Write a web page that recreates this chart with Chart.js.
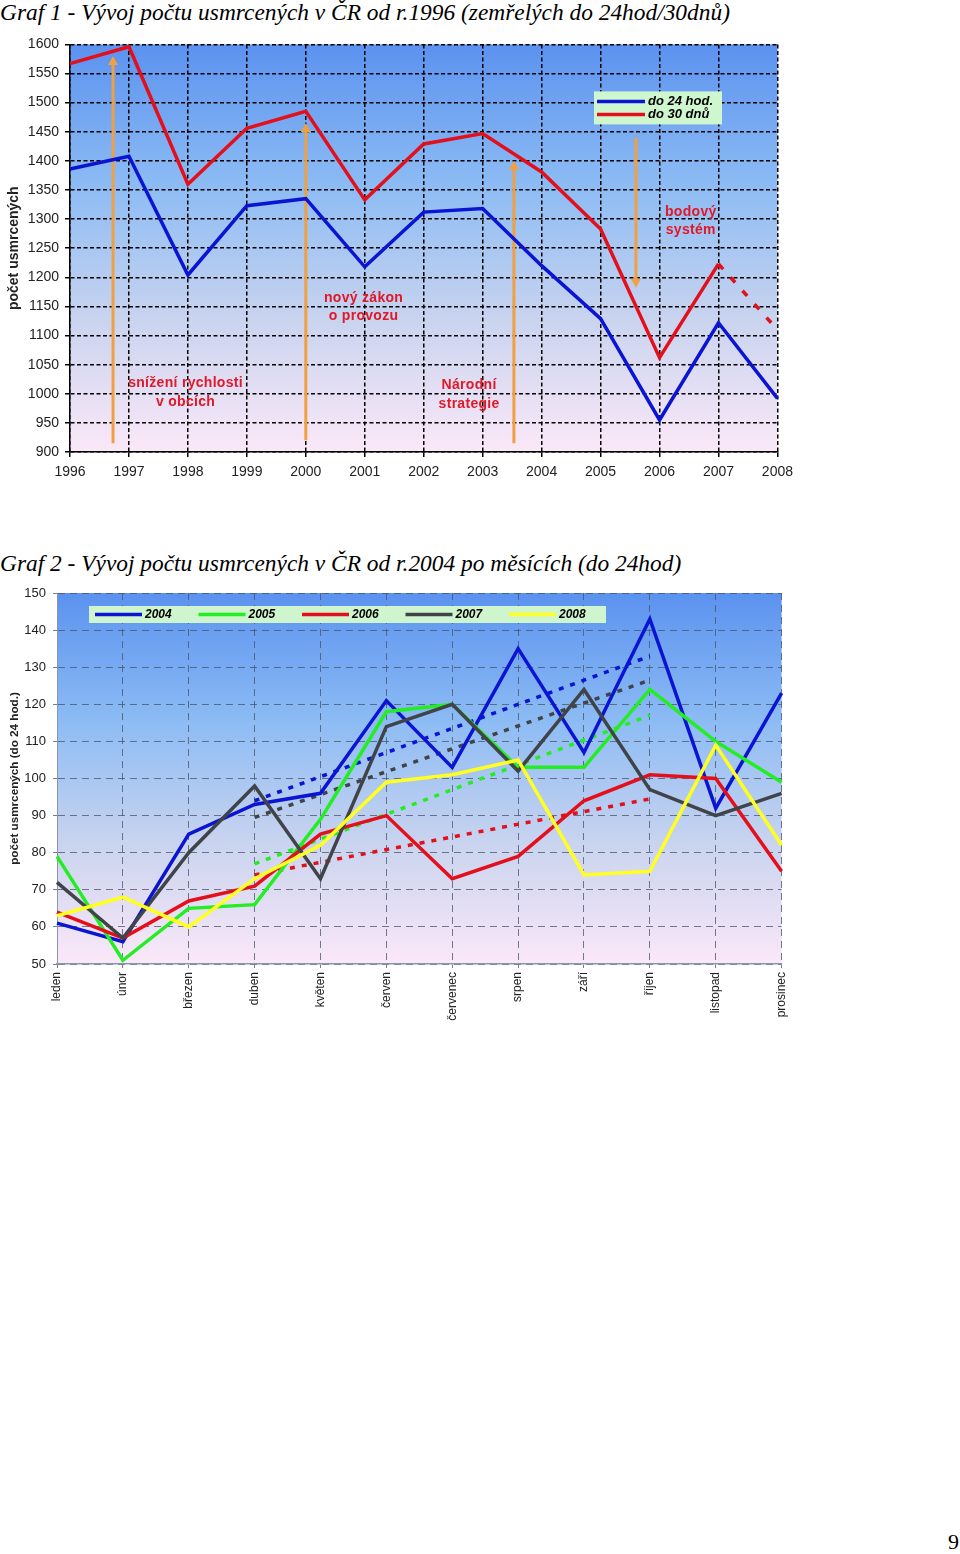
<!DOCTYPE html>
<html lang="cs">
<head>
<meta charset="utf-8">
<title>Vývoj počtu usmrcených v ČR</title>
<script src="https://cdn.jsdelivr.net/npm/chart.js@4.4.1/dist/chart.umd.min.js"></script>
<style>
  body { margin:0; background:#fff; width:960px; height:1554px; position:relative; overflow:hidden; }
  .nadpis { position:absolute; left:0; font-family:'Liberation Serif','Times New Roman',serif; font-style:italic; font-size:23.4px; color:#000; white-space:nowrap; }
  canvas { position:absolute; left:0; }
  #strana { position:absolute; left:948px; top:1529px; font-family:'Liberation Serif','Times New Roman',serif; font-size:22px; }
</style>
</head>
<body>
<div class="nadpis" style="top:-1px">Graf 1 - Vývoj počtu usmrcených v ČR od r.1996 (zemřelých do 24hod/30dnů)</div>
<canvas id="graf1" width="800" height="470" style="top:30px"></canvas>
<div class="nadpis" style="top:550px">Graf 2 - Vývoj počtu usmrcených v ČR od r.2004 po měsících (do 24hod)</div>
<canvas id="graf2" width="800" height="470" style="top:575px"></canvas>
<div id="strana">9</div>
<script>
// Graf 1 - roky
const roky = ['1996','1997','1998','1999','2000','2001','2002','2003','2004','2005','2006','2007','2008'];
const do24hod = [1386,1408,1204,1323,1335,1218,1312,1318,1220,1129,955,1122,992];
const do30dnu = [1567,1596,1360,1456,1485,1333,1429,1447,1381,1283,1062,1223,null];
const do30dnuOdhad = [null,null,null,null,null,null,null,null,null,null,null,1223,1110];

// Graf 2 - mesice
const mesice = ['leden','únor','březen','duben','květen','červen','červenec','srpen','září','říjen','listopad','prosinec'];
const r2004 = [61,56,85,93,96,121,103,135,107,143,92,123];
const r2005 = [79,51,65,66,89,118,120,103,103,124,110,99];
const r2006 = [64,57,67,71,85,90,73,79,94,101,100,75];
const r2007 = [72,57,80,98,73,114,120,102,124,97,90,96];
const r2008 = [63,68,60,73,82,99,101,105,74,75,109,82];
// trendy (duben - rijen)
const trend2004 = [null,null,null,94,null,null,null,null,null,133,null,null];
const trend2005 = [null,null,null,77,null,null,null,null,null,117,null,null];
const trend2006 = [null,null,null,74,null,null,null,null,null,94.5,null,null];
const trend2007 = [null,null,null,89.5,null,null,null,null,null,126.5,null,null];

// sipky a popisky v grafu 1 (rok, hodnoty)
const sipky = [
  {rok:1996.73, od:915, k:1580},
  {rok:2000.0,  od:920, k:1465},
  {rok:2003.53, od:915, k:1400},
  {rok:2005.6,  od:1440, k:1182}
];
const popisky = [
  {rok:1997.96, hodnota:1018, radky:['snížení rychlosti','v obcích']},
  {rok:2000.98, hodnota:1165, radky:['nový zákon','o provozu']},
  {rok:2002.77, hodnota:1014, radky:['Národní','strategie']},
  {rok:2006.53, hodnota:1312, radky:['bodový','systém']}
];

Chart.defaults.font.family = "'Liberation Sans', Arial, sans-serif";

const modra = '#0a14d2', cervena = '#e3101c', zelena = '#22ee22', seda = '#404448', zluta = '#ffff22';

const pozadi = {
  id: 'pozadi',
  beforeDraw(chart) {
    const {ctx, chartArea: a} = chart;
    const g = ctx.createLinearGradient(0, a.top, 0, a.bottom);
    g.addColorStop(0, '#5b92ef');
    g.addColorStop(0.35, '#8dbcf4');
    g.addColorStop(0.68, '#cad4ef');
    g.addColorStop(1, '#fbe8f8');
    ctx.save();
    ctx.fillStyle = g;
    ctx.fillRect(a.left, a.top, a.right - a.left, a.bottom - a.top);
    ctx.restore();
  }
};

const legendaBox = {
  id: 'legendaBox',
  afterDraw(chart, args, o) {
    const {ctx, chartArea: a} = chart;
    const x = a.left + o.x, y = a.top + o.y;
    ctx.save();
    ctx.fillStyle = o.barva;
    ctx.fillRect(x, y, o.w, o.h);
    ctx.font = o.font;
    ctx.textBaseline = 'middle';
    o.polozky.forEach((p, i) => {
      const ds = chart.data.datasets[p];
      const lx = x + o.pad + i * o.dx, ly = y + o.pady + i * o.dy;
      ctx.strokeStyle = ds.borderColor;
      ctx.lineWidth = 3.5;
      ctx.beginPath();
      ctx.moveTo(lx, ly);
      ctx.lineTo(lx + o.delka, ly);
      ctx.stroke();
      ctx.fillStyle = '#000';
      ctx.fillText(ds.label, lx + o.delka + 3, ly + 0.5);
    });
    ctx.restore();
  }
};

const anotace = {
  id: 'anotace',
  beforeDatasetsDraw(chart) {
    const {ctx, scales: {x, y}} = chart;
    ctx.save();
    ctx.strokeStyle = '#f0a040';
    ctx.fillStyle = '#f0a040';
    ctx.lineWidth = 3;
    sipky.forEach(s => {
      const px = x.getPixelForValue(s.rok - 1996);
      const y1 = y.getPixelForValue(s.od), y2 = y.getPixelForValue(s.k);
      const smer = y2 < y1 ? 1 : -1;
      ctx.beginPath();
      ctx.moveTo(px, y1);
      ctx.lineTo(px, y2 + smer * 6);
      ctx.stroke();
      ctx.beginPath();
      ctx.moveTo(px, y2);
      ctx.lineTo(px - 5, y2 + smer * 9);
      ctx.lineTo(px + 5, y2 + smer * 9);
      ctx.closePath();
      ctx.fill();
    });
    ctx.fillStyle = '#e01828';
    ctx.font = "bold 14px 'Liberation Sans', Arial, sans-serif";
    ctx.letterSpacing = '0.3px';
    ctx.textAlign = 'center';
    ctx.textBaseline = 'middle';
    popisky.forEach(p => {
      const px = x.getPixelForValue(p.rok - 1996);
      const py = y.getPixelForValue(p.hodnota);
      p.radky.forEach((r, i) => ctx.fillText(r, px, py + i * 18.5));
    });
    ctx.restore();
  }
};

const car = (data, barva, extra) => Object.assign({
  data: data, borderColor: barva, backgroundColor: barva, borderWidth: 3.5,
  pointRadius: 0, tension: 0, fill: false
}, extra || {});

new Chart(document.getElementById('graf1'), {
  type: 'line',
  data: {
    labels: roky,
    datasets: [
      car(do24hod, modra, {label: 'do 24 hod.'}),
      car(do30dnu, cervena, {label: 'do 30 dnů'}),
      car(do30dnuOdhad, cervena, {label: 'odhad', borderDash: [7, 11], spanGaps: true})
    ]
  },
  options: {
    responsive: false,
    animation: false,
    layout: {padding: {top: 13, right: 21, left: 0, bottom: 0}},
    plugins: {
      legend: {display: false},
      tooltip: {enabled: false},
      legendaBox: {x: 524, y: 47, w: 128, h: 33, barva: '#cff7cf', pad: 3, pady: 10, dx: 0, dy: 13, delka: 48,
                   font: "bold italic 13px 'Liberation Sans', Arial, sans-serif", polozky: [0, 1]}
    },
    scales: {
      x: {
        grid: {color: '#000', lineWidth: 1.5, tickLength: 5},
        border: {display: true, color: '#000', width: 1.5, dash: [4, 2.5]},
        ticks: {color: '#222', font: {size: 14}, padding: 7, maxRotation: 0, autoSkip: false},
        afterFit(s) { s.height = 48; }
      },
      y: {
        min: 900, max: 1600,
        grid: {color: '#000', lineWidth: 1.5, tickLength: 5},
        border: {display: true, color: '#000', width: 1.5, dash: [4, 2.5]},
        ticks: {stepSize: 50, color: '#222', font: {size: 14}, padding: 6, callback: v => String(v)},
        title: {display: true, text: 'počet usmrcených', color: '#222', font: {size: 14, weight: 'bold'}, padding: {top: 6, bottom: 0}},
        afterFit(s) { s.width = 70; }
      }
    }
  },
  plugins: [pozadi, anotace, legendaBox]
});

new Chart(document.getElementById('graf2'), {
  type: 'line',
  data: {
    labels: mesice,
    datasets: [
      car(r2004, modra, {label: '2004', order: 5}),
      car(r2005, zelena, {label: '2005', order: 4}),
      car(r2006, cervena, {label: '2006', order: 3}),
      car(r2007, seda, {label: '2007', order: 2}),
      car(r2008, zluta, {label: '2008', order: 1}),
      car(trend2004, modra, {label: 'trend 2004', borderDash: [5, 7], spanGaps: true, order: 10}),
      car(trend2005, zelena, {label: 'trend 2005', borderDash: [5, 7], spanGaps: true, order: 10}),
      car(trend2006, cervena, {label: 'trend 2006', borderDash: [5, 7], spanGaps: true, order: 10}),
      car(trend2007, seda, {label: 'trend 2007', borderDash: [5, 7], spanGaps: true, order: 10})
    ]
  },
  options: {
    responsive: false,
    animation: false,
    layout: {padding: {top: 18, right: 17, left: 0, bottom: 0}},
    plugins: {
      legend: {display: false},
      tooltip: {enabled: false},
      legendaBox: {x: 32, y: 13, w: 517, h: 17, barva: '#cff5cf', pad: 6, pady: 8.5, dx: 103.5, dy: 0, delka: 47,
                   font: "bold italic 12px 'Liberation Sans', Arial, sans-serif", polozky: [0, 1, 2, 3, 4]}
    },
    scales: {
      x: {
        grid: {color: 'rgba(70,82,105,0.75)', lineWidth: 1, tickLength: 4},
        border: {display: true, color: '#8a96b0', width: 1.5, dash: [7, 5]},
        ticks: {color: '#222', font: {size: 12}, padding: 4, minRotation: 90, maxRotation: 90, autoSkip: false},
        afterFit(s) { s.height = 81; }
      },
      y: {
        min: 50, max: 150,
        grid: {color: 'rgba(70,82,105,0.75)', lineWidth: 1, tickLength: 4},
        border: {display: true, color: '#8a96b0', width: 1, dash: [7, 5]},
        ticks: {stepSize: 10, color: '#222', font: {size: 13}, padding: 7},
        title: {display: true, text: 'počet usmrcených (do 24 hod.)', color: '#222', font: {size: 11.7, weight: 'bold'}, padding: {top: 8, bottom: 0}},
        afterFit(s) { s.width = 57; }
      }
    }
  },
  plugins: [pozadi, legendaBox]
});
</script>
</body>
</html>
